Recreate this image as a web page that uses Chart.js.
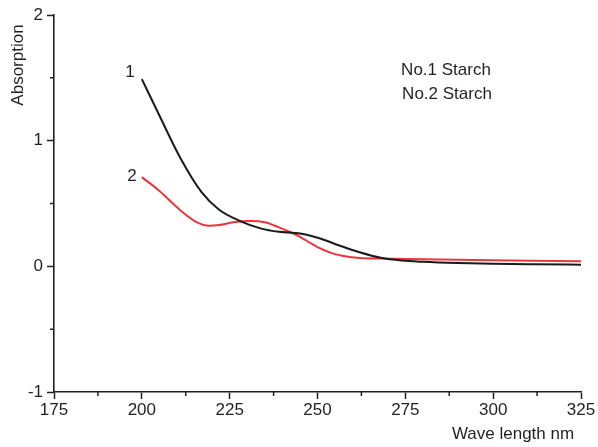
<!DOCTYPE html>
<html>
<head>
<meta charset="utf-8">
<script src="https://cdn.jsdelivr.net/npm/chart.js@4/dist/chart.umd.min.js"></script>
<style>
    body { margin: 0; background: #ffffff; }
    #wrap { width: 598px; height: 447px; }
</style>
</head>
<body>
<div id="wrap"><canvas id="absChart" width="598" height="447"></canvas></div>
<script>
// curve 1 (black) and curve 2 (red)
const starch1Wave = [200, 205, 211, 217, 222, 228, 234, 239, 245, 251, 256, 262, 268, 274, 280, 290, 300, 312, 325];
const starch1Abs = [1.49, 1.2, 0.86, 0.59, 0.45, 0.36, 0.30, 0.275, 0.262, 0.22, 0.168, 0.112, 0.068, 0.046, 0.036, 0.026, 0.02, 0.016, 0.013];
const starch2Wave = [200, 205, 211, 216, 219, 222, 226, 231, 235, 239, 242, 245, 248, 251, 254, 257, 262, 268, 280, 300, 325];
const starch2Abs = [0.71, 0.6, 0.445, 0.345, 0.322, 0.328, 0.35, 0.36, 0.35, 0.31, 0.275, 0.235, 0.185, 0.14, 0.105, 0.085, 0.066, 0.062, 0.056, 0.048, 0.04];

const xTicks = [175, 200, 225, 250, 275, 300, 325];
const yTicks = [-1, 0, 1, 2];
const legendNames = ['No.1 Starch', 'No.2 Starch'];
const curveLabels = ['1', '2'];

const inkColor = '#231f20';
const fontFamily = '"Liberation Sans", Arial, sans-serif';

document.addEventListener('DOMContentLoaded', function() {

    function toPoints(xs, ys) {
        return xs.map((x, i) => ({ x: x, y: ys[i] }));
    }

    // short minor ticks and the free text of the figure
    const extrasPlugin = {
        id: 'extras',
        afterDraw(chart) {
            const c = chart.ctx;
            const xs = chart.scales.x;
            const ys = chart.scales.y;
            const area = chart.chartArea;
            c.save();
            c.strokeStyle = inkColor;
            c.lineWidth = 1.5;
            c.beginPath();
            for (let i = 0; i < xTicks.length - 1; i++) {
                const px = xs.getPixelForValue((xTicks[i] + xTicks[i + 1]) / 2);
                c.moveTo(px, area.bottom);
                c.lineTo(px, area.bottom + 4);
            }
            for (let i = 0; i < yTicks.length - 1; i++) {
                const py = ys.getPixelForValue((yTicks[i] + yTicks[i + 1]) / 2);
                c.moveTo(area.left, py);
                c.lineTo(area.left - 4, py);
            }
            c.stroke();

            c.fillStyle = inkColor;
            c.font = '17px ' + fontFamily;
            c.textAlign = 'center';
            c.textBaseline = 'middle';
            c.fillText(curveLabels[0], 130, 72);
            c.fillText(curveLabels[1], 132, 176);
            c.fillText(legendNames[0], 446, 70);
            c.fillText(legendNames[1], 447, 94);
            c.fillText('Wave length nm', 513, 434);

            c.translate(18, 65);
            c.rotate(-Math.PI / 2);
            c.fillText('Absorption', 0, 0);
            c.restore();
        }
    };

    const ctx = document.getElementById('absChart').getContext('2d');
    const absChart = new Chart(ctx, {
        type: 'line',
        data: {
            datasets: [{
                label: legendNames[0],
                data: toPoints(starch1Wave, starch1Abs),
                borderColor: '#1a1a1a',
                borderWidth: 2,
                pointRadius: 0,
                fill: false,
                cubicInterpolationMode: 'monotone'
            }, {
                label: legendNames[1],
                data: toPoints(starch2Wave, starch2Abs),
                borderColor: '#e8383d',
                borderWidth: 2,
                pointRadius: 0,
                fill: false,
                cubicInterpolationMode: 'monotone'
            }]
        },
        options: {
            responsive: false,
            animation: false,
            layout: {
                padding: { top: 15, right: 17, left: 0, bottom: 0 }
            },
            plugins: {
                legend: { display: false },
                tooltip: { enabled: false }
            },
            scales: {
                x: {
                    type: 'linear',
                    min: xTicks[0],
                    max: xTicks[xTicks.length - 1],
                    afterFit: (scale) => { scale.height = 55; },
                    afterBuildTicks: (scale) => { scale.ticks = xTicks.map(v => ({ value: v })); },
                    ticks: {
                        color: inkColor,
                        font: { family: fontFamily, size: 17 },
                        padding: 1,
                        maxRotation: 0,
                        autoSkip: false
                    },
                    grid: {
                        drawOnChartArea: false,
                        tickLength: 7,
                        tickWidth: 1.5,
                        tickColor: inkColor
                    },
                    border: { color: inkColor, width: 1.6 }
                },
                y: {
                    min: yTicks[0],
                    max: yTicks[yTicks.length - 1],
                    afterFit: (scale) => { scale.width = 54; },
                    afterBuildTicks: (scale) => { scale.ticks = yTicks.map(v => ({ value: v })); },
                    ticks: {
                        color: inkColor,
                        font: { family: fontFamily, size: 17 },
                        padding: 4
                    },
                    grid: {
                        drawOnChartArea: false,
                        tickLength: 7,
                        tickWidth: 1.5,
                        tickColor: inkColor
                    },
                    border: { color: inkColor, width: 1.6 }
                }
            }
        },
        plugins: [extrasPlugin]
    });
});
</script>
</body>
</html>
